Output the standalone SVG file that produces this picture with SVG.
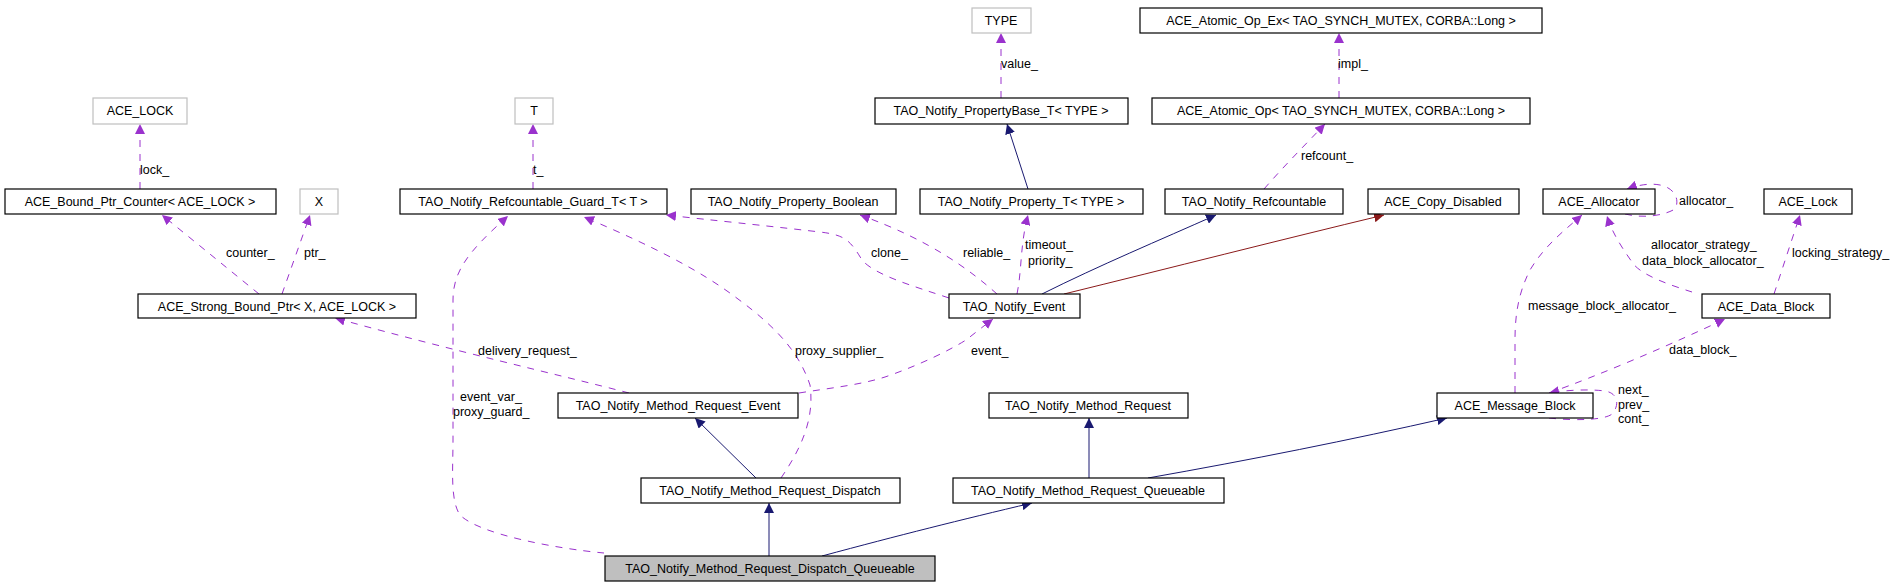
<svg xmlns="http://www.w3.org/2000/svg" width="1904" height="584" viewBox="0 0 1904 584">
<style>
rect{fill:#fff;stroke:#000;stroke-width:1.2}
.g rect{stroke:#bfbfbf}
.cur rect{fill:#bfbfbf}
text{font-family:"Liberation Sans",Arial,sans-serif;font-size:12.5px;fill:#000}
.n text{text-anchor:middle}
.p{fill:none;stroke:#9a32cd;stroke-dasharray:7,7}
.b{fill:none;stroke:#191970}
.r{fill:none;stroke:#8b1a1a}
</style>
<defs>
<marker id="ap" markerWidth="10" markerHeight="10" refX="10" refY="5" orient="auto" markerUnits="userSpaceOnUse"><path d="M0,0L10,5L0,10z" fill="#9a32cd"/></marker>
<marker id="ab" markerWidth="10" markerHeight="10" refX="10" refY="5" orient="auto" markerUnits="userSpaceOnUse"><path d="M0,0L10,5L0,10z" fill="#191970"/></marker>
<marker id="ar" markerWidth="10" markerHeight="10" refX="10" refY="5" orient="auto" markerUnits="userSpaceOnUse"><path d="M0,0L10,5L0,10z" fill="#8b1a1a"/></marker>
</defs>
<g id="edges">
<path class="p" marker-end="url(#ap)" d="M140,189V124"/>
<path class="p" marker-end="url(#ap)" d="M259,294L162,215"/>
<path class="p" marker-end="url(#ap)" d="M282,294L310,215"/>
<path class="p" marker-end="url(#ap)" d="M533,189V124"/>
<path class="p" marker-end="url(#ap)" d="M629,393C560,375 450,350 335,318"/>
<path class="p" marker-end="url(#ap)" d="M604,553C560,549 480,535 460,515C450,500 453,470 453,440V300C453,270 470,250 508,216"/>
<path class="p" marker-end="url(#ap)" d="M781,478C800,450 815,420 810,385C800,355 780,330 738,299C700,270 650,245 584,217"/>
<path class="p" marker-end="url(#ap)" d="M949,298C910,285 875,275 862,260C850,240 845,235 820,232C760,225 710,220 666,215"/>
<path class="p" marker-end="url(#ap)" d="M997,294C970,270 930,240 860,215"/>
<path class="p" marker-end="url(#ap)" d="M1017,294C1022,270 1020,245 1028,215"/>
<path class="b" marker-end="url(#ab)" d="M1042,294C1100,265 1160,240 1216,215"/>
<path class="r" marker-end="url(#ar)" d="M1064,294C1170,268 1280,240 1384,215"/>
<path class="b" marker-end="url(#ab)" d="M1028,189L1007,124"/>
<path class="p" marker-end="url(#ap)" d="M1001,98V33"/>
<path class="p" marker-end="url(#ap)" d="M1264,189C1285,165 1305,145 1325,124"/>
<path class="p" marker-end="url(#ap)" d="M1339,98V33"/>
<path class="p" marker-end="url(#ap)" d="M799,393C830,388 860,385 885,377C920,365 950,350 966,340C975,333 985,325 993,319"/>
<path class="b" marker-end="url(#ab)" d="M756,478L695,418"/>
<path class="b" marker-end="url(#ab)" d="M769,556V503"/>
<path class="b" marker-end="url(#ab)" d="M822,556C900,535 960,520 1032,503"/>
<path class="b" marker-end="url(#ab)" d="M1089,478V418"/>
<path class="b" marker-end="url(#ab)" d="M1148,478C1250,460 1350,440 1447,418"/>
<path class="p" marker-end="url(#ap)" d="M1515,393V340C1515,310 1520,290 1530,270C1545,245 1565,230 1582,215"/>
<path class="p" marker-end="url(#ap)" d="M1692,292C1670,285 1640,275 1632,262C1620,245 1612,232 1607,216"/>
<path class="p" marker-end="url(#ap)" d="M1774,294L1800,215"/>
<path class="p" marker-end="url(#ap)" d="M1549,393C1600,375 1670,345 1725,319"/>
<path class="p" marker-end="url(#ap)" d="M1625,214C1645,219 1665,215 1675,209C1680,200 1675,188 1660,185C1650,183 1638,185 1627,189"/>
<path class="p" marker-end="url(#ap)" d="M1549,418C1575,421 1605,420 1612,414C1620,405 1618,393 1605,391C1590,389 1565,390 1549,393"/>
</g>
<g class="labels">
<text x="140" y="174">lock_</text>
<text x="533" y="174">t_</text>
<text x="226" y="257">counter_</text>
<text x="304" y="257">ptr_</text>
<text x="478" y="355">delivery_request_</text>
<text x="460" y="401">event_var_</text>
<text x="453" y="416">proxy_guard_</text>
<text x="1001" y="68">value_</text>
<text x="871" y="257">clone_</text>
<text x="963" y="257">reliable_</text>
<text x="1025" y="249">timeout_</text>
<text x="1028" y="265">priority_</text>
<text x="795" y="355">proxy_supplier_</text>
<text x="971" y="355">event_</text>
<text x="1338" y="68">impl_</text>
<text x="1301" y="160">refcount_</text>
<text x="1679" y="205">allocator_</text>
<text x="1651" y="249">allocator_strategy_</text>
<text x="1642" y="265">data_block_allocator_</text>
<text x="1792" y="257">locking_strategy_</text>
<text x="1528" y="310">message_block_allocator_</text>
<text x="1669" y="354">data_block_</text>
<text x="1618" y="394">next_</text>
<text x="1618" y="409">prev_</text>
<text x="1618" y="423">cont_</text>
</g>
<g class="n">
<g id="ace_lock" class="g"><rect x="93" y="98" width="94" height="26"/><text x="140" y="115">ACE_LOCK</text></g>
<g id="t" class="g"><rect x="515" y="98" width="38" height="26"/><text x="534" y="115">T</text></g>
<g id="x" class="g"><rect x="300" y="189" width="38" height="25"/><text x="319" y="206">X</text></g>
<g id="type" class="g"><rect x="972" y="8" width="59" height="25"/><text x="1001" y="25">TYPE</text></g>
<g id="bpc"><rect x="5" y="189" width="271" height="25"/><text x="140" y="206">ACE_Bound_Ptr_Counter&lt; ACE_LOCK &gt;</text></g>
<g id="guard"><rect x="400" y="189" width="267" height="25"/><text x="533" y="206">TAO_Notify_Refcountable_Guard_T&lt; T &gt;</text></g>
<g id="pbool"><rect x="691" y="189" width="205" height="25"/><text x="793" y="206">TAO_Notify_Property_Boolean</text></g>
<g id="propt"><rect x="920" y="189" width="223" height="25"/><text x="1031" y="206">TAO_Notify_Property_T&lt; TYPE &gt;</text></g>
<g id="refc"><rect x="1165" y="189" width="178" height="25"/><text x="1254" y="206">TAO_Notify_Refcountable</text></g>
<g id="copyd"><rect x="1368" y="189" width="151" height="25"/><text x="1443" y="206">ACE_Copy_Disabled</text></g>
<g id="alloc"><rect x="1543" y="189" width="112" height="25"/><text x="1599" y="206">ACE_Allocator</text></g>
<g id="acelock2"><rect x="1764" y="189" width="88" height="25"/><text x="1808" y="206">ACE_Lock</text></g>
<g id="pbase"><rect x="875" y="98" width="253" height="26"/><text x="1001" y="115">TAO_Notify_PropertyBase_T&lt; TYPE &gt;</text></g>
<g id="atomic"><rect x="1152" y="98" width="378" height="26"/><text x="1341" y="115">ACE_Atomic_Op&lt; TAO_SYNCH_MUTEX, CORBA::Long &gt;</text></g>
<g id="atomicex"><rect x="1140" y="8" width="402" height="25"/><text x="1341" y="25">ACE_Atomic_Op_Ex&lt; TAO_SYNCH_MUTEX, CORBA::Long &gt;</text></g>
<g id="strong"><rect x="138" y="294" width="278" height="24"/><text x="277" y="311">ACE_Strong_Bound_Ptr&lt; X, ACE_LOCK &gt;</text></g>
<g id="event"><rect x="949" y="294" width="131" height="24"/><text x="1014" y="311">TAO_Notify_Event</text></g>
<g id="datab"><rect x="1702" y="294" width="128" height="24"/><text x="1766" y="311">ACE_Data_Block</text></g>
<g id="mre"><rect x="558" y="393" width="240" height="25"/><text x="678" y="410">TAO_Notify_Method_Request_Event</text></g>
<g id="mr"><rect x="989" y="393" width="199" height="25"/><text x="1088" y="410">TAO_Notify_Method_Request</text></g>
<g id="msgb"><rect x="1437" y="393" width="156" height="25"/><text x="1515" y="410">ACE_Message_Block</text></g>
<g id="mrd"><rect x="641" y="478" width="259" height="25"/><text x="770" y="495">TAO_Notify_Method_Request_Dispatch</text></g>
<g id="mrq"><rect x="953" y="478" width="271" height="25"/><text x="1088" y="495">TAO_Notify_Method_Request_Queueable</text></g>
<g id="mrdq" class="cur"><rect x="605" y="556" width="330" height="25"/><text x="770" y="573">TAO_Notify_Method_Request_Dispatch_Queueable</text></g>
</g>
</svg>
